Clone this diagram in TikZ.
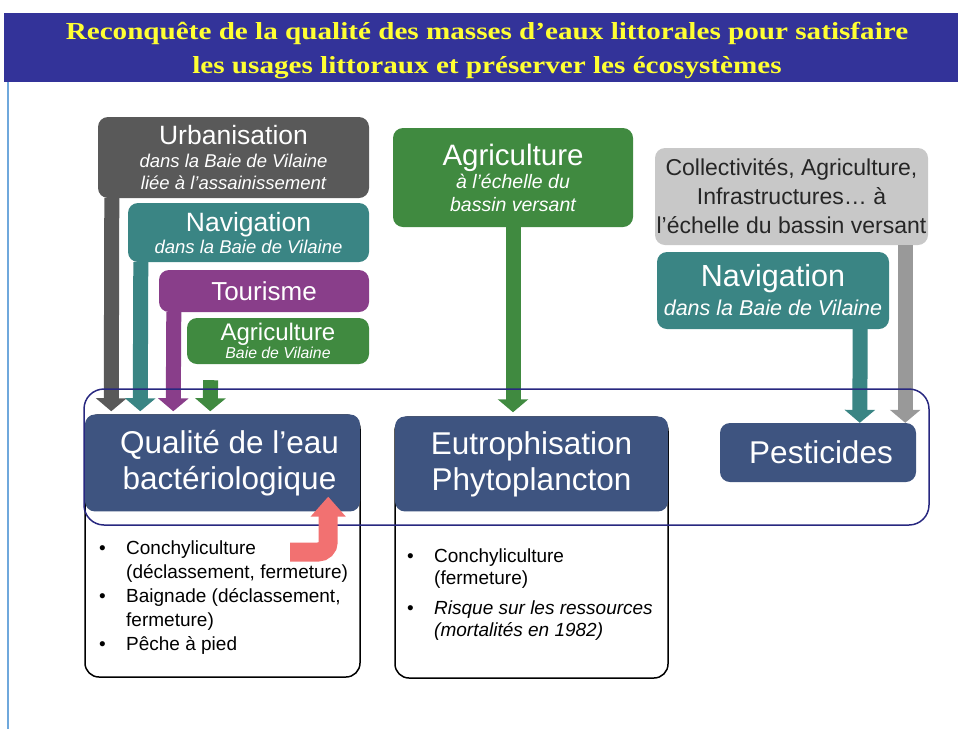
\documentclass[tikz,border=0pt]{standalone}
\usepackage{fontspec}
\setmainfont{Liberation Sans}
\newfontfamily\titlefont[FakeStretch=1.19]{Liberation Serif}
\usetikzlibrary{arrows.meta}

\definecolor{banner}{RGB}{51,51,153}
\definecolor{titleyellow}{RGB}{255,255,51}
\definecolor{edge}{RGB}{111,168,220}
\definecolor{urbgrey}{RGB}{89,89,89}
\definecolor{navteal}{RGB}{58,133,132}
\definecolor{tourpurple}{RGB}{137,62,138}
\definecolor{agrgreen}{RGB}{64,138,64}
\definecolor{collgrey}{RGB}{200,200,200}
\definecolor{collarrow}{RGB}{153,153,153}
\definecolor{hdrblue}{RGB}{62,84,128}
\definecolor{framenavy}{RGB}{40,40,128}
\definecolor{pinkarrow}{RGB}{242,113,113}

\newcommand\itm{\makebox[27pt][l]{\textbullet}}
\newcommand\ind{\hspace*{27pt}}
\newcommand\fs[2]{\fontsize{#1}{#2}\selectfont}

\begin{document}
\begin{tikzpicture}[x=1pt,y=-1pt]
  \tikzstyle{box}=[rectangle,rounded corners=10pt,inner sep=0pt,
    align=center,text=white]
  \tikzstyle{hdr}=[box,fill=hdrblue,font=\fs{31.5}{36}]
  \tikzstyle{lst}=[rectangle,rounded corners=14pt,draw=black,
    line width=1.5pt,fill=white]
  \tikzstyle{ar}=[line width=15pt,-{Triangle[width=30pt,length=13pt]}]

  \useasboundingbox (0,0) rectangle (958,729);
  \draw[edge,line width=1.5pt] (8,13) -- (8,729);

  \fill[banner] (4,13) rectangle (958,82);
  \node[align=center,text=titleyellow,inner sep=0pt,
    font=\titlefont\bfseries\fs{24.5}{34}]
    (title) at (487,51)
    {Reconquête de la qualité des masses d’eaux littorales pour satisfaire\\
     les usages littoraux et préserver les écosystèmes};

  % sources
  \node[box,fill=urbgrey,minimum width=271pt,minimum height=81pt,
    font=\fs{18.5}{22}] (urb) at (233.5,157.5)
    {\fs{26.5}{28}Urbanisation\\[1pt]
     \itshape dans la Baie de Vilaine\\
     \itshape liée à l’assainissement};
  \node[box,fill=navteal,minimum width=241pt,minimum height=59pt,
    font=\fs{18.5}{22}] (nav1) at (248.5,232.5)
    {\fs{26.5}{26}Navigation\\
     \itshape dans la Baie de Vilaine};
  \node[box,fill=tourpurple,minimum width=210pt,minimum height=42pt,
    font=\fs{26}{28}] (tour) at (264,291) {Tourisme};
  \node[box,fill=agrgreen,minimum width=182pt,minimum height=46pt,
    font=\fs{15.8}{18}] (agr1) at (278,341)
    {\fs{24}{22}Agriculture\\
     \itshape Baie de Vilaine};

  \node[box,fill=agrgreen,minimum width=240pt,minimum height=99pt,
    font=\fs{19.5}{23}] (agr2) at (513,177.5)
    {\fs{29.5}{30}Agriculture\\
     \itshape à l’échelle du\\
     \itshape bassin versant};

  \node[box,fill=collgrey,text=black!85,minimum width=273pt,minimum height=97pt,
    font=\fs{23}{29}] (coll) at (791.5,196.5)
    {Collectivités, Agriculture,\\Infrastructures… à\\l’échelle du bassin versant};
  \node[box,fill=navteal,minimum width=232pt,minimum height=77pt,
    font=\fs{21.5}{26}] (nav2) at (773,290.5)
    {\fs{30.5}{31}Navigation\\[3pt]
     \itshape dans la Baie de Vilaine};

  % impacts
  \node[lst,minimum width=275pt,minimum height=262pt] (qual) at (222.5,546) {};
  \node[hdr,minimum width=275pt,minimum height=97pt,anchor=north] (qualh) at (qual.north)
    {\hspace*{14pt}Qualité de l’eau\\\hspace*{14pt}bactériologique};
  \node[lst,minimum width=273pt,minimum height=261pt] (eut) at (531.5,547.5) {};
  \node[hdr,minimum width=273pt,minimum height=95pt,anchor=north] (euth) at (eut.north)
    {Eutrophisation\\Phytoplancton};
  \node[hdr,minimum width=196pt,minimum height=59pt] (pest) at (818,452.5)
    {\hspace*{6pt}Pesticides};

  \node[anchor=north west,align=left,inner sep=0pt,
    font=\fs{19}{24}] (qlist) at (99,541)
    {\itm Conchyliculture\\
     \ind (déclassement, fermeture)\\
     \itm Baignade (déclassement,\\
     \ind fermeture)\\
     \itm Pêche à pied};
  \node[anchor=north west,align=left,inner sep=0pt,
    font=\fs{19}{22}] (elist) at (407,549)
    {\itm Conchyliculture\\
     \ind (fermeture)\\[8pt]
     \itm\textit{Risque sur les ressources}\\
     \ind\textit{(mortalités en 1982)}};

  % arrows
  \draw[ar,urbgrey] ([xshift=14pt]urb.south west) -- ([xshift=27pt,yshift=3pt]qual.north west);
  \draw[ar,navteal] ([xshift=13pt]nav1.south west) -- ([xshift=56pt,yshift=3pt]qual.north west);
  \draw[ar,tourpurple] ([xshift=15pt]tour.south west) -- ([xshift=89pt,yshift=3pt]qual.north west);
  \draw[ar,agrgreen,shorten <=16pt] ([xshift=24pt]agr1.south west)
    -- ([xshift=126pt,yshift=3pt]qual.north west);
  \draw[ar,agrgreen,shorten >=4pt] (agr2.south) -- (agr2.south |- eut.north);
  \draw[ar,navteal] ([xshift=-29pt]nav2.south east) -- ([xshift=140pt]pest.north west);
  \draw[ar,collarrow] ([xshift=-23pt]coll.south east) -- ([xshift=-11pt]pest.north east);

  \draw[framenavy,line width=1.5pt,rounded corners=20pt] (84,389) rectangle (929,525);

  \coordinate (pk) at (290,552);
  \draw[pinkarrow,line width=19pt,rounded corners=10pt,-{Triangle[width=34pt,length=20pt]}]
    (pk) -| ([xshift=-32pt,yshift=15pt]qualh.south east);
\end{tikzpicture}
\end{document}
